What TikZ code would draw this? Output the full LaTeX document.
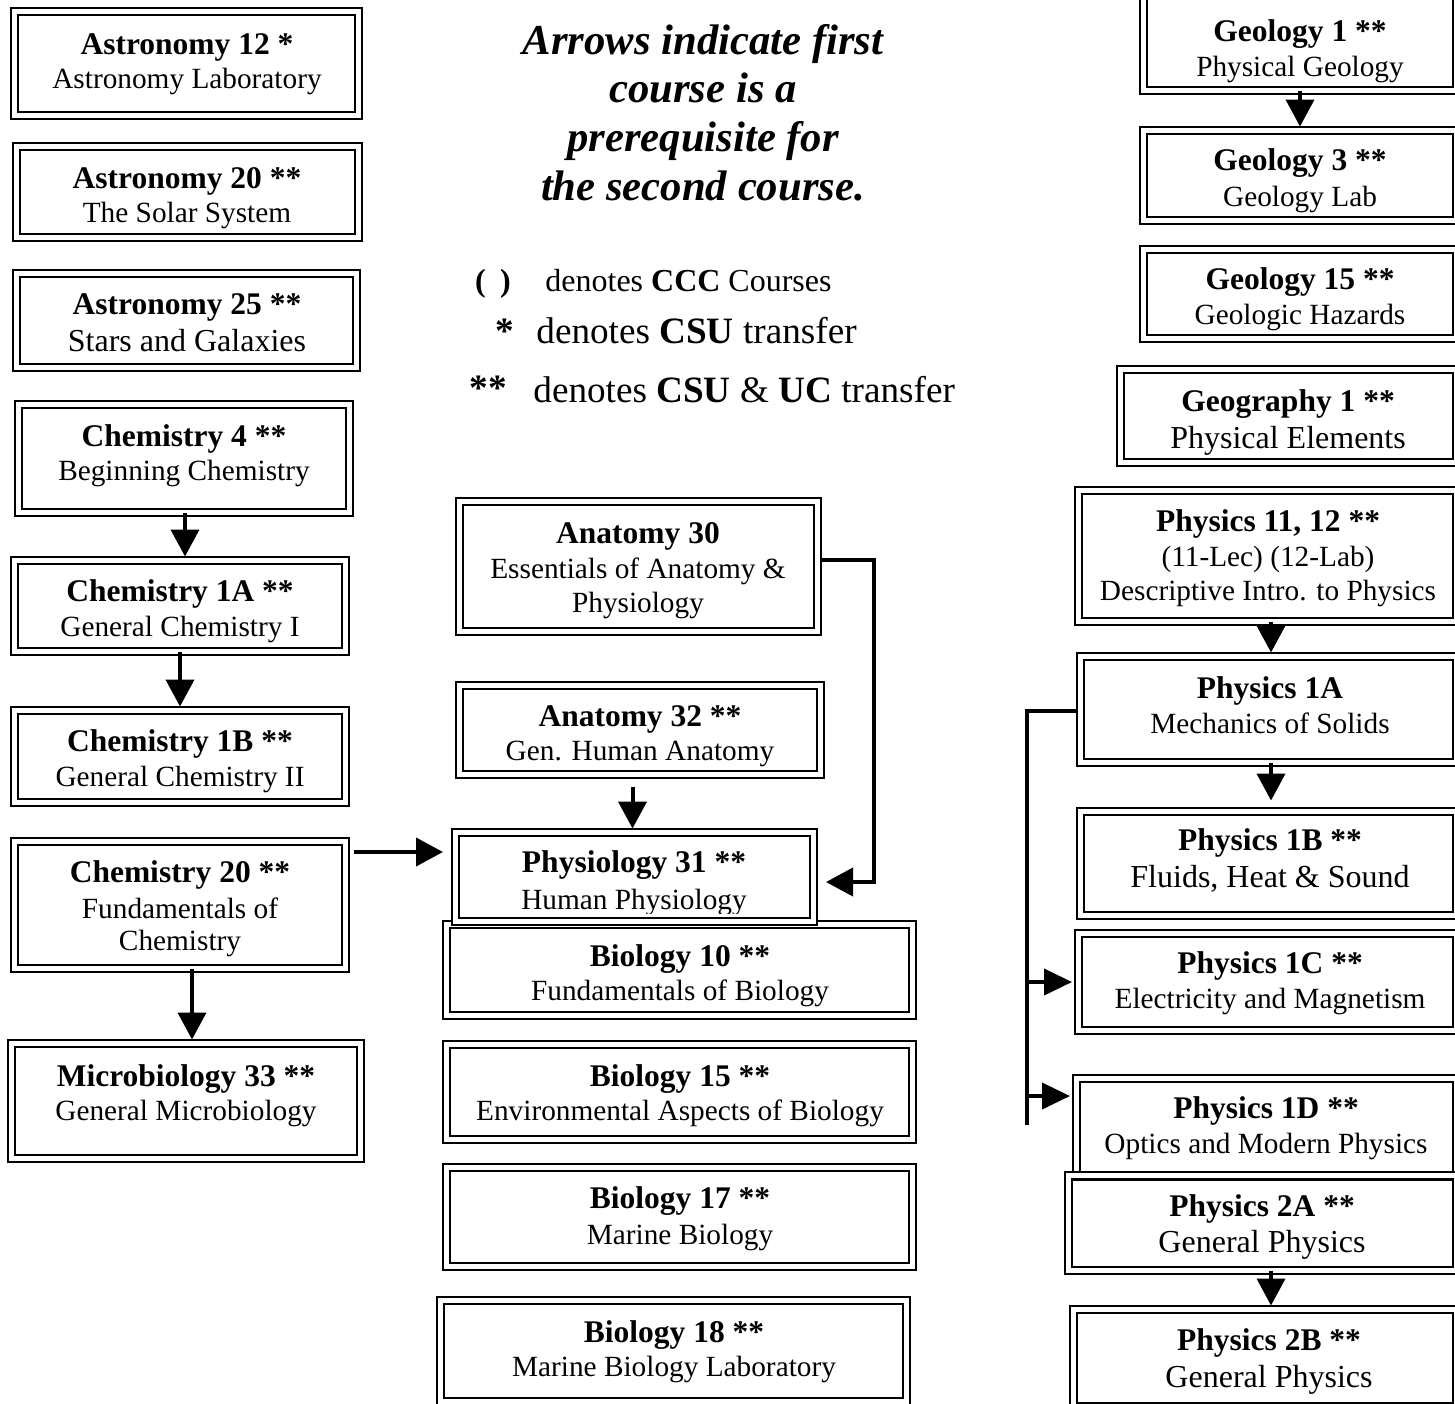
\documentclass[tikz,border=0pt]{standalone}
\usepackage{fontspec}
\setmainfont{Liberation Serif}
\usetikzlibrary{arrows.meta,fit,calc}
\newcommand\fB{\fontsize{15.75pt}{18pt}\selectfont\bfseries}
\newcommand\fR{\fontsize{14.65pt}{17pt}\selectfont}
\newcommand\fL{\fontsize{16pt}{19pt}\selectfont}
\newcommand\fT{\fontsize{21.35pt}{24pt}\selectfont\bfseries\itshape}
\newcommand\fS{\fontsize{16pt}{19pt}\selectfont}
\newcommand\fM{\fontsize{18.6pt}{22pt}\selectfont}
\newcommand\cbox[6][]{\node[cbox,#1,fit={(#3+3.5,#4+3.5) (#5-3.5,#6-3.5)}] (#2) {};}
\newcommand\tx[5]{\node[txt,font=#4] (#1) at (#2,#3+10) {#5};}
\tikzset{
  cbox/.style={draw, double, line width=0.85pt, double distance=2.7pt, inner sep=0pt, outer sep=0pt, rectangle},
  txt/.style={anchor=base, inner sep=0pt},
  arr/.style={line width=2pt, -{Triangle[width=14pt,length=13.5pt]}},
  arrs/.style={line width=2pt, -{Triangle[width=13pt,length=14pt]}},
  conn/.style={line width=2pt}
}
\begin{document}
\begin{tikzpicture}[x=0.5pt,y=-0.5pt]
\useasboundingbox (0,0) rectangle (1455,1403);
\clip (0,0) rectangle (1455,1403);
\fill[white] (0,0) rectangle (1455,1403);

% title
\node[txt,font=\fT] (ti1) at (703,54) {Arrows indicate first};
\node[txt,font=\fT] (ti2) at (703,102) {course is a};
\node[txt,font=\fT] (ti3) at (703,151) {prerequisite for};
\node[txt,font=\fT] (ti4) at (703,200) {the second course.};

% legend
\node[txt,font=\fS\bfseries] (lp) at (493,291) {(\hspace{0.45em})};
\node[txt,font=\fS,anchor=base west] (l1) at (545,291) {denotes \textbf{CCC} Courses};
\node[txt,font=\fM\bfseries] (ls) at (505,343) {*};
\node[txt,font=\fM,anchor=base west] (l2) at (536,343) {denotes \textbf{CSU} transfer};
\node[txt,font=\fM\bfseries] (lss) at (488,400) {**};
\node[txt,font=\fM,anchor=base west] (l3) at (533,402) {denotes \textbf{CSU} \& \textbf{UC} transfer};

% left column
\cbox{ast12}{11}{8}{362}{119}
\tx{ast12a}{187}{44}{\fB}{Astronomy 12 *}
\tx{ast12b}{187}{78}{\fR}{Astronomy Laboratory}
\cbox{ast20}{13}{143}{362}{241}
\tx{ast20a}{187}{178}{\fB}{Astronomy 20 **}
\tx{ast20b}{187}{212}{\fR}{The Solar System}
\cbox{ast25}{13}{270}{360}{371}
\tx{ast25a}{187}{304}{\fB}{Astronomy 25 **}
\tx{ast25b}{187}{341}{\fL}{Stars and Galaxies}
\cbox{chem4}{15}{401}{353}{516}
\tx{chem4a}{184}{436}{\fB}{Chemistry 4 **}
\tx{chem4b}{184}{470}{\fR}{Beginning Chemistry}
\cbox{chem1a}{11}{557}{349}{655}
\tx{chem1aa}{180}{591}{\fB}{Chemistry 1A **}
\tx{chem1ab}{180}{626}{\fR}{General Chemistry I}
\cbox{chem1b}{11}{707}{349}{806}
\tx{chem1ba}{180}{741}{\fB}{Chemistry 1B **}
\tx{chem1bb}{180}{776}{\fR}{General Chemistry II}
\cbox{chem20}{11}{838}{349}{972}
\tx{chem20a}{180}{872}{\fB}{Chemistry 20 **}
\tx{chem20b}{180}{908}{\fR}{Fundamentals of}
\tx{chem20c}{180}{940}{\fR}{Chemistry}
\cbox{micro}{8}{1040}{364}{1162}
\tx{microa}{186}{1076}{\fB}{Microbiology 33 **}
\tx{microb}{186}{1110}{\fR}{General Microbiology}

% middle column
\cbox{anat30}{456}{498}{821}{635}
\tx{anat30a}{638}{533}{\fB}{Anatomy 30}
\tx{anat30b}{638}{568}{\fR}{Essentials of Anatomy \&}
\tx{anat30c}{638}{602}{\fR}{Physiology}
\cbox{anat32}{456}{682}{824}{778}
\tx{anat32a}{640}{716}{\fB}{Anatomy 32 **}
\tx{anat32b}{640}{750}{\fR}{Gen. Human Anatomy}
\cbox{bio10}{443}{921}{916}{1019}
\tx{bio10a}{680}{956}{\fB}{Biology 10 **}
\tx{bio10b}{680}{990}{\fR}{Fundamentals of Biology}
\cbox[fill=white]{phys31}{452}{829}{817}{925}
\tx{phys31a}{634}{862}{\fB}{Physiology 31 **}
\begin{scope}
\clip (459,836) rectangle (810,913);
\tx{phys31b}{634}{899}{\fR}{Human Physiology}
\end{scope}
\cbox{bio15}{443}{1041}{916}{1143}
\tx{bio15a}{680}{1076}{\fB}{Biology 15 **}
\tx{bio15b}{680}{1110}{\fR}{Environmental Aspects of Biology}
\cbox{bio17}{443}{1164}{916}{1270}
\tx{bio17a}{680}{1198}{\fB}{Biology 17 **}
\tx{bio17b}{680}{1234}{\fR}{Marine Biology}
\cbox{bio18}{437}{1297}{910}{1405}
\tx{bio18a}{674}{1332}{\fB}{Biology 18 **}
\tx{bio18b}{674}{1366}{\fR}{Marine Biology Laboratory}

% right column
\cbox{geo1}{1140}{-10}{1460}{94}
\tx{geo1a}{1300}{31}{\fB}{Geology 1 **}
\tx{geo1b}{1300}{66}{\fR}{Physical Geology}
\cbox{geo3}{1140}{127}{1460}{224}
\tx{geo3a}{1300}{160}{\fB}{Geology 3 **}
\tx{geo3b}{1300}{196}{\fR}{Geology Lab}
\cbox{geo15}{1140}{246}{1460}{342}
\tx{geo15a}{1300}{279}{\fB}{Geology 15 **}
\tx{geo15b}{1300}{314}{\fR}{Geologic Hazards}
\cbox{geog1}{1117}{366}{1460}{466}
\tx{geog1a}{1288}{401}{\fB}{Geography 1 **}
\tx{geog1b}{1288}{438}{\fL}{Physical Elements}
\cbox{ph1112}{1075}{487}{1460}{625}
\tx{ph1112a}{1268}{521}{\fB}{Physics 11, 12 **}
\tx{ph1112b}{1268}{556}{\fR}{(11-Lec) (12-Lab)}
\tx{ph1112c}{1268}{590}{\fR}{Descriptive Intro. to Physics}
\cbox{ph1a}{1077}{653}{1460}{766}
\tx{ph1aa}{1270}{688}{\fB}{Physics 1A}
\tx{ph1ab}{1270}{723}{\fR}{Mechanics of Solids}
\cbox{ph1b}{1077}{808}{1460}{919}
\tx{ph1ba}{1270}{840}{\fB}{Physics 1B **}
\tx{ph1bb}{1270}{877}{\fL}{Fluids, Heat \& Sound}
\cbox{ph1c}{1075}{930}{1460}{1034}
\tx{ph1ca}{1270}{963}{\fB}{Physics 1C **}
\tx{ph1cb}{1270}{998}{\fR}{Electricity and Magnetism}
\cbox{ph1d}{1073}{1075}{1460}{1180}
\tx{ph1da}{1266}{1108}{\fB}{Physics 1D **}
\tx{ph1db}{1266}{1143}{\fR}{Optics and Modern Physics}
\cbox{ph2a}{1065}{1172}{1460}{1274}
\tx{ph2aa}{1262}{1206}{\fB}{Physics 2A **}
\tx{ph2ab}{1262}{1242}{\fL}{General Physics}
\cbox{ph2b}{1070}{1306}{1460}{1410}
\tx{ph2ba}{1269}{1340}{\fB}{Physics 2B **}
\tx{ph2bb}{1269}{1377}{\fL}{General Physics}

% connectors
\draw[arr,shorten >=2pt] ([xshift=0.5pt]chem4.south) -- ([xshift=0.5pt]chem4.south |- chem1a.north);
\draw[arr,shorten >=2pt] (chem1a.south) -- (chem1a.south |- chem1b.north);
\draw[arr,shorten >=2pt] ([xshift=6pt]chem20.south) -- ([xshift=6pt]chem20.south |- micro.north);
\coordinate (s1) at ($(chem20.north east)+(8.5,10.5)$);
\draw[arr,shorten >=6.25pt] (s1) -- (s1 -| phys31.west);
\draw[arr,shorten >=2pt] ($(phys31.north |- anat32.south)+(-2,12)$) -- ($(phys31.north)+(-2,0)$);
\draw[arr] ($(anat30.east)+(3,-6.5)$) -| ($(phys31.east)+(60.5,5)$) -- ($(phys31.east)+(12.5,5)$);

\coordinate (gx) at (1300,0);
\draw[arr,shorten >=2pt] (gx |- geo1.south) -- (gx |- geo3.north);
\coordinate (px) at (1271,0);
\draw[arr,shorten >=2pt] (px |- ph1112.south) -- (px |- ph1a.north);
\draw[arr] (px |- ph1a.south) -- ($(px |- ph1b.north)+(0,-11)$);
\draw[arr,shorten >=2pt] (px |- ph2a.south) -- (px |- ph2b.north);

\coordinate (bx) at (1027,0);
\coordinate (bend) at (1027,1125);
\draw[conn] ($(ph1a.west)+(-3,1.5)$) -| (bend);
\coordinate (c1) at ($(ph1c.west)+(-6.5,0)$);
\draw[arrs] ([xshift=-1pt]bx |- c1) -- (c1);
\coordinate (d1) at ($(ph1d.north west)+(-6.5,17.5)$);
\draw[arrs] ([xshift=-1pt]bx |- d1) -- (d1);
\end{tikzpicture}
\end{document}
